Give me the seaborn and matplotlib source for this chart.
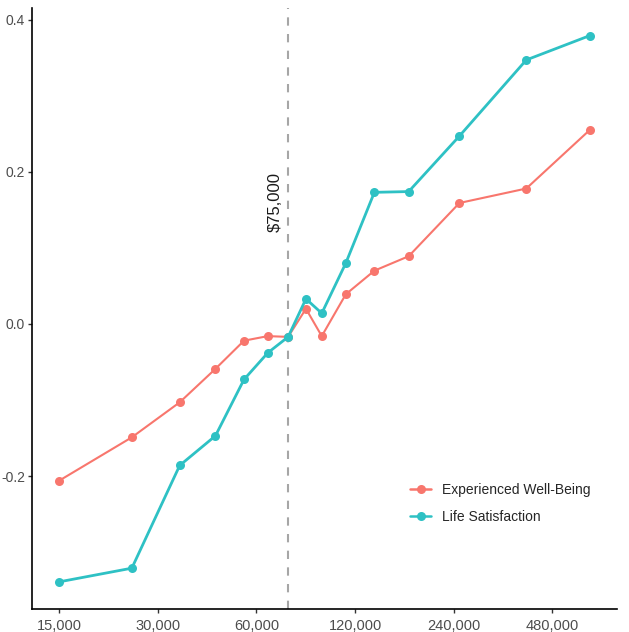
import numpy as np
import pandas as pd
import matplotlib
matplotlib.use("Agg")
import matplotlib.pyplot as plt
import matplotlib.ticker as mticker
import seaborn as sns

# income bands (USD) and z-scored outcomes
income = [15000, 25000, 35000, 45000, 55000, 65000, 75000, 85000,
          95000, 112500, 137500, 175000, 250000, 400000, 625000]
experienced_wb = [-0.206, -0.149, -0.103, -0.059, -0.022, -0.016, -0.017, 0.020,
                  -0.016, 0.039, 0.070, 0.089, 0.159, 0.178, 0.255]
life_sat = [-0.339, -0.321, -0.186, -0.147, -0.073, -0.038, -0.017, 0.033,
            0.014, 0.080, 0.173, 0.174, 0.247, 0.347, 0.379]
x_ticks = [15000, 30000, 60000, 120000, 240000, 480000]
y_ticks = [-0.2, 0.0, 0.2, 0.4]
series_names = ["Experienced Well-Being", "Life Satisfaction"]

df = pd.DataFrame({
    "income": income * 2,
    "value": experienced_wb + life_sat,
    "measure": [series_names[0]] * len(income) + [series_names[1]] * len(income),
})

sns.set_style("ticks")
plt.rcParams["font.family"] = ["Liberation Sans", "DejaVu Sans"]

fig = plt.figure(figsize=(6.29, 6.32), dpi=100)
ax = fig.add_axes([0.051, 0.036, 0.930, 0.951])

palette = {series_names[0]: "#F8766D", series_names[1]: "#2EC1C4"}
ax.axvline(75000, color="#A6A6A6", linestyle=(0, (4, 4)), linewidth=1.5, zorder=0)
sns.lineplot(data=df, x="income", y="value", hue="measure", palette=palette,
             marker="o", markersize=6.5, markeredgewidth=0, ax=ax)
for line, lw in zip(ax.lines[1:], [1.5, 2.0]):
    line.set_linewidth(lw)

ax.set_xscale("log", base=2)
ax.set_xlim(12400, 757000)
ax.set_ylim(-0.375, 0.415)
ax.xaxis.set_major_locator(mticker.FixedLocator(x_ticks))
ax.xaxis.set_minor_locator(mticker.NullLocator())
ax.set_xticklabels([f"{t:,}" for t in x_ticks])
ax.set_yticks(y_ticks)
ax.set_yticklabels([f"{t:.1f}" for t in y_ticks])
ax.tick_params(axis="both", labelcolor="#4D4D4D", length=3, width=1, color="#333333")
ax.tick_params(axis="x", labelsize=10.5, pad=4)
ax.tick_params(axis="y", labelsize=10, pad=2)
ax.set_xlabel("")
ax.set_ylabel("")
for s in ["left", "bottom"]:
    ax.spines[s].set_linewidth(1.2)
    ax.spines[s].set_color("black")
sns.despine(ax=ax)

ax.text(68500, 0.16, "$75,000", rotation=90, fontsize=12, color="#1a1a1a",
        ha="center", va="center")

leg = ax.legend(loc="center left", bbox_to_anchor=(0.625, 0.176), frameon=False,
                fontsize=10, handlelength=1.5, labelspacing=0.95, title=None)
for h in leg.legend_handles:
    h.set_linewidth(1.8)

fig.savefig("out.png", dpi=100)
